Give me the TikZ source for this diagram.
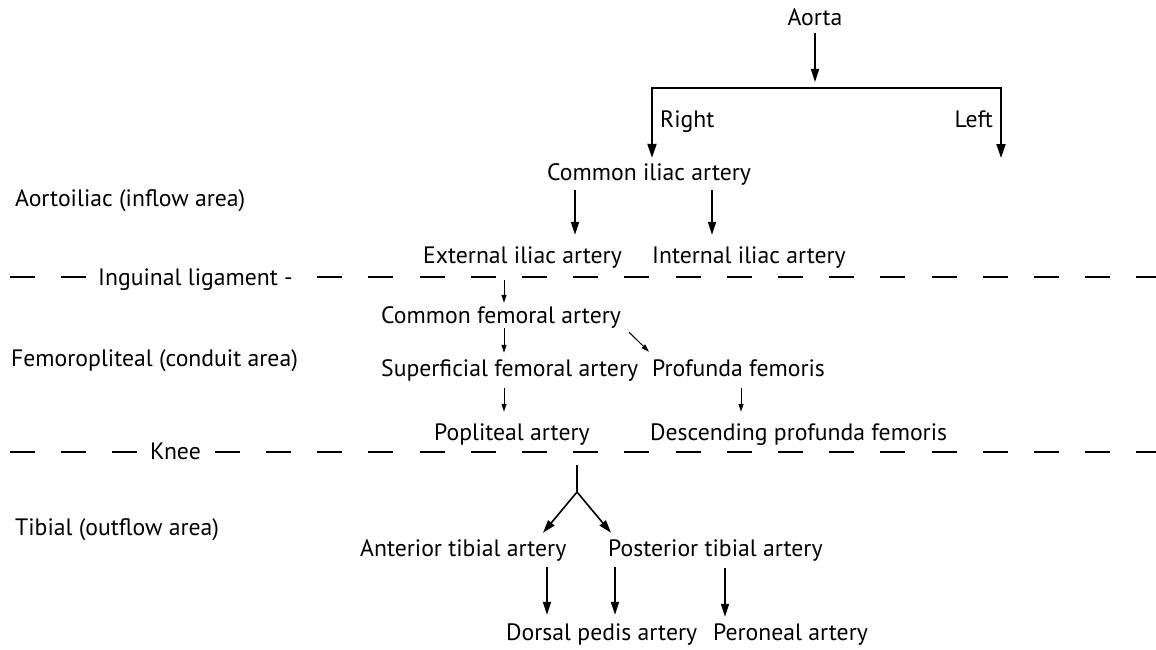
\documentclass[tikz,border=0pt]{standalone}
\usepackage{fontspec}
\setmainfont{PT Sans}
\usetikzlibrary{arrows.meta}
\begin{document}
\begin{tikzpicture}[x=1pt,y=-1pt,
  lab/.style={inner sep=0pt, text height=16pt, text depth=0pt, anchor=west, font=\fontsize{23.7}{28}\selectfont},
  cut/.style={lab, fill=white, inner xsep=7pt, inner ysep=2pt},
  arr/.style={line width=1.6pt, -{Triangle[length=13pt,width=8pt]}},
  arrs/.style={line width=1pt, -{Triangle[length=8pt,width=5pt]}},
  arrboth/.style={line width=2pt, line join=miter, {Triangle[length=14pt,width=9pt]}-{Triangle[length=14pt,width=9pt]}},
  plain/.style={line width=1.6pt},
  dashline/.style={line width=2.3pt, dash pattern=on 25pt off 26.2pt}]
\useasboundingbox (0,0) rectangle (1156,650);
\fill[white] (0,0) rectangle (1156,650);
% dashed level lines
\coordinate (ingL) at (10,277);
\coordinate (ingR) at (1156,277);
\coordinate (kneeL) at (10,452);
\coordinate (kneeR) at (1156,452);
\draw[dashline] (ingL) -- (ingR);
\draw[dashline] (kneeL) -- (kneeR);
% region labels
\node[lab] (aortoiliac) at (15,198) {Aortoiliac (inflow area)};
\node[lab] (femoro) at (11,358) {Femoropliteal (conduit area)};
\node[lab] (tibial) at (15,527) {Tibial (outflow area)};
\node[cut] (inguinal) at (91,277) {Inguinal ligament -};
\node[cut] (knee) at (143,451) {Knee};
% vessels
\node[lab, anchor=center] (aorta) at (815,18) {Aorta};
\node[lab] (right) at (660,120) {Right};
\node[lab, anchor=east] (left) at (993,120) {Left};
\node[lab] (cia) at (547,172) {Common iliac artery};
\node[lab] (eia) at (423,255) {External iliac artery};
\node[lab] (iia) at (652,255) {Internal iliac artery};
\node[lab] (cfa) at (381,315) {Common femoral artery};
\node[lab] (sfa) at (381,368) {Superficial femoral artery};
\node[lab] (pf) at (652,368) {Profunda femoris};
\node[lab] (pop) at (434,432) {Popliteal artery};
\node[lab] (dpf) at (650,432) {Descending profunda femoris};
\node[lab] (ata) at (360,548) {Anterior tibial artery};
\node[lab] (pta) at (608,548) {Posterior tibial artery};
\node[lab] (dpa) at (506,632) {Dorsal pedis artery};
\node[lab] (pa) at (713,632) {Peroneal artery};
% aorta split
\coordinate (barM) at (815,82);
\coordinate (bar) at (815,88);
\coordinate (ltip) at (1001,158);
\draw[arr] ([yshift=-7pt]aorta.south) -- (barM);
\draw[arrboth] ([xshift=105pt,yshift=6pt]cia.north west) |- (bar) -| (ltip);
% iliac
\draw[arr] ([xshift=28pt,yshift=-10pt]cia.south west) -- ([xshift=152pt,yshift=12pt]eia.north west);
\draw[arr] ([xshift=165pt,yshift=-10pt]cia.south west) -- ([xshift=60pt,yshift=12pt]iia.north west);
% femoral
\draw[arrs] ([xshift=81pt,yshift=-17pt]eia.south west) -- ([xshift=123pt,yshift=4pt]cfa.north west);
\draw[arrs] ([xshift=123pt,yshift=-5pt]cfa.south west) -- ([xshift=123pt,yshift=7pt]sfa.north west);
\draw[arrs] ([xshift=248pt,yshift=-9pt]cfa.south west) -- ([xshift=-3pt,yshift=8pt]pf.north west);
\draw[arrs] ([xshift=123pt,yshift=-12pt]sfa.south west) -- ([xshift=70pt,yshift=12pt]pop.north west);
\draw[arrs] ([xshift=89pt,yshift=-12pt]pf.south west) -- ([xshift=91pt,yshift=12pt]dpf.north west);
% tibial
\coordinate (fork) at (577,492);
\draw[plain] ([xshift=143pt,yshift=-25pt]pop.south west) -- (fork);
\draw[arr] (fork) -- ([xshift=183pt,yshift=7pt]ata.north west);
\draw[arr] (fork) -- ([xshift=3pt,yshift=7pt]pta.north west);
\draw[arr] ([xshift=187pt,yshift=-11pt]ata.south west) -- ([xshift=41pt,yshift=9pt]dpa.north west);
\draw[arr] ([xshift=7pt,yshift=-11pt]pta.south west) -- ([xshift=109pt,yshift=9pt]dpa.north west);
\draw[arr] ([xshift=117pt,yshift=-12pt]pta.south west) -- ([xshift=12pt,yshift=7pt]pa.north west);
\end{tikzpicture}
\end{document}
